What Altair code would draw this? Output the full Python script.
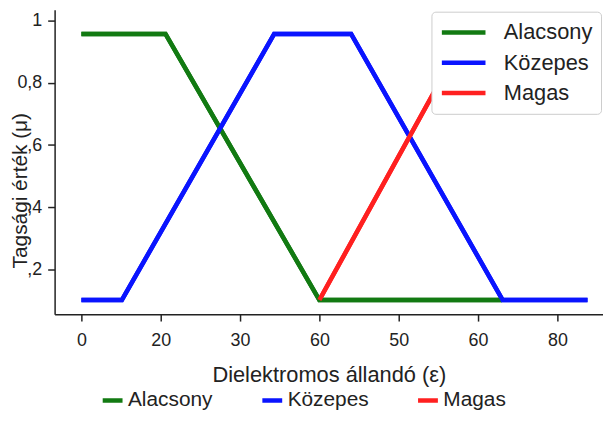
import altair as alt
import pandas as pd

# ---- data ----
series_names = ["Alacsony", "Közepes", "Magas"]
series_colors = ["#127a12", "#0a14ff", "#ff2020"]

# x positions are in tick-slot units (tick slot i carries label x_tick_labels[i])
alacsony_x = [0.0, 1.06, 3.0, 5.3]
alacsony_y = [0.957, 0.957, 0.102, 0.102]
kozepes_x = [0.0, 0.51, 2.43, 3.4, 5.31, 6.38]
kozepes_y = [0.102, 0.102, 0.957, 0.957, 0.102, 0.102]
magas_x = [3.0, 4.85, 6.38]
magas_y = [0.102, 0.957, 0.957]

x_tick_labels = ["0", "20", "30", "60", "50", "60", "80"]
y_tick_values = [0.2, 0.4, 0.6, 0.8, 1.0]
y_tick_labels = [",2", ",4", ",6", "0,8", "1"]

x_title = "Dielektromos állandó (ε)"
y_title = "Tagsági érték (μ)"

rows = []
for name, xs, ys in zip(series_names, [alacsony_x, kozepes_x, magas_x],
                        [alacsony_y, kozepes_y, magas_y]):
    for i, (xv, yv) in enumerate(zip(xs, ys)):
        rows.append({"series": name, "x": xv, "y": yv, "i": i})
df = pd.DataFrame(rows)

FONT = "Liberation Sans"
TXT = "#222222"

x_label_expr = "[" + ",".join("'%s'" % s for s in x_tick_labels) + "][round(datum.value)]"
y_label_expr = "[" + ",".join("'%s'" % s for s in y_tick_labels) + "][round(datum.value*5)-1]"

x_enc = alt.X(
    "x:Q",
    title=x_title,
    scale=alt.Scale(domain=[-0.3375, 6.575], nice=False, zero=False),
    axis=alt.Axis(
        values=list(range(len(x_tick_labels))),
        labelExpr=x_label_expr,
        labelFontSize=18, labelFont=FONT, labelColor=TXT,
        labelBaseline="alphabetic", labelPadding=25,
        tickSize=7, tickWidth=1.5, tickColor=TXT,
        domainColor=TXT, domainWidth=1.5, grid=False,
        titleFontSize=22, titleFont=FONT, titleFontWeight="normal",
        titleColor=TXT, titleBaseline="alphabetic", titleY=68,
    ),
)
y_enc = alt.Y(
    "y:Q",
    title=y_title,
    scale=alt.Scale(domain=[0.0566, 1.035], nice=False, zero=False),
    axis=alt.Axis(
        values=y_tick_values,
        labelExpr=y_label_expr,
        labelFontSize=18, labelFont=FONT, labelColor=TXT, labelPadding=6,
        tickSize=7, tickWidth=1.5, tickColor=TXT,
        domainColor=TXT, domainWidth=1.5, grid=False,
        titleFontSize=21, titleFont=FONT, titleFontWeight="normal",
        titleColor=TXT, titleX=-34, titleY=182, titleAlign="center",
        titleBaseline="middle",
    ),
)

color_scale = alt.Scale(domain=series_names, range=series_colors)

bottom_legend = alt.Legend(
    title=None, orient="none", legendX=46, legendY=381,
    direction="horizontal", symbolType="stroke", symbolSize=400,
    symbolStrokeWidth=4.5, labelFontSize=21, labelFont=FONT,
    labelColor=TXT, labelOffset=3, columnPadding=47, clipHeight=26,
    padding=0,
)
top_legend = alt.Legend(
    title=None, orient="none", legendX=380, legendY=2,
    direction="vertical", symbolType="stroke", symbolSize=1936,
    symbolStrokeWidth=4.5, labelFontSize=22, labelFont=FONT,
    labelColor=TXT, labelOffset=16, clipHeight=26, rowPadding=4.5,
    padding=8, fillColor="white", strokeColor="#cccccc", cornerRadius=4,
)

base = alt.Chart(df)
lines_a = base.mark_line(strokeWidth=4.5).encode(
    x=x_enc, y=y_enc, order="i:Q",
    color=alt.Color("series:N", scale=color_scale, legend=bottom_legend),
)
lines_b = base.mark_line(strokeWidth=4.5).encode(
    x=x_enc, y=y_enc, order="i:Q",
    color=alt.Color("series:N", scale=color_scale, legend=top_legend),
)

chart = (
    alt.layer(lines_a, lines_b)
    .resolve_scale(color="independent")
    .properties(
        width=553, height=307,
        autosize=alt.AutoSizeParams(type="none"),
        padding={"left": 47, "top": 0, "right": 0, "bottom": 100},
        background="white",
    )
    .configure_view(stroke=None)
)

chart.save("out.html", embed_options={"renderer": "svg", "actions": False})
